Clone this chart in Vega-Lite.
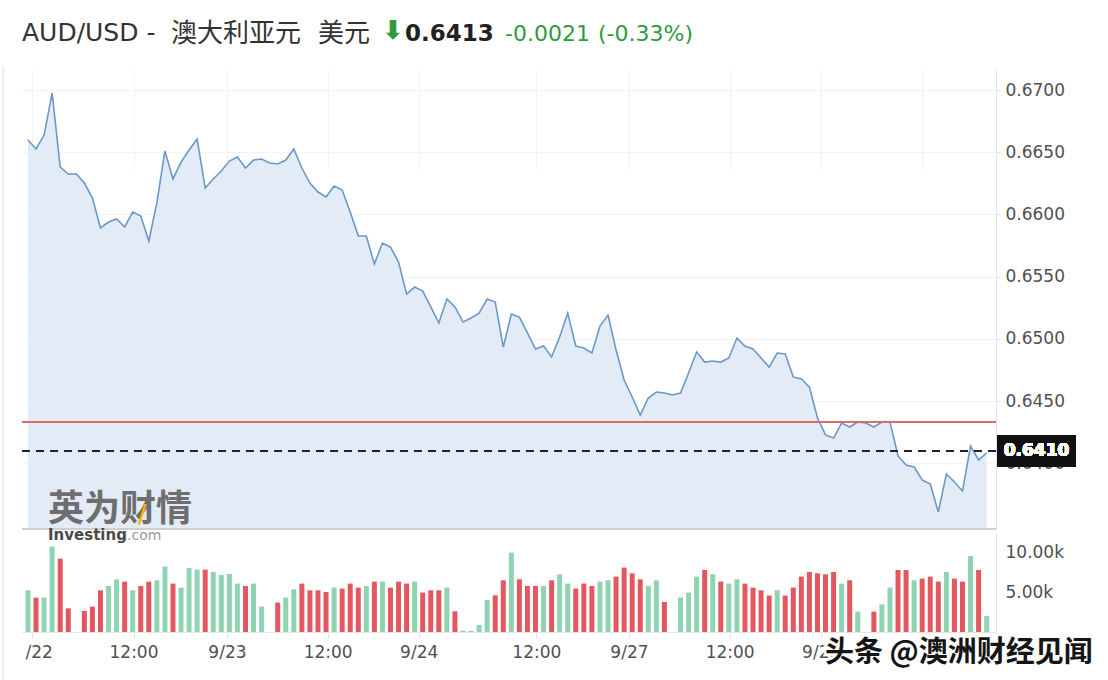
{
  "$schema": "https://vega.github.io/schema/vega-lite/v6.json",
  "width": 974,
  "height": 562,
  "autosize": {"type": "none"},
  "padding": {"left": 22, "top": 70, "right": 112, "bottom": 48},
  "background": "white",
  "config": {"view": {"stroke": null}, "font": "DejaVu Sans"},
  "datasets": {
    "price": [
      {"i":0,"p":0.66598},{"i":1,"p":0.66526},{"i":2,"p":0.66638},{"i":3,"p":0.66976},{"i":4,"p":0.66381},
      {"i":5,"p":0.66325},{"i":6,"p":0.66325},{"i":7,"p":0.66252},{"i":8,"p":0.66132},{"i":9,"p":0.65891},
      {"i":10,"p":0.65939},{"i":11,"p":0.65963},{"i":12,"p":0.65899},{"i":13,"p":0.66019},{"i":14,"p":0.65987},
      {"i":15,"p":0.65786},{"i":16,"p":0.66092},{"i":17,"p":0.6651},{"i":18,"p":0.66285},{"i":19,"p":0.66421},
      {"i":20,"p":0.66518},{"i":21,"p":0.66606},{"i":22,"p":0.66212},{"i":23,"p":0.66285},{"i":24,"p":0.66349},
      {"i":25,"p":0.66429},{"i":26,"p":0.66461},{"i":27,"p":0.66373},{"i":28,"p":0.66437},{"i":29,"p":0.66445},
      {"i":30,"p":0.66413},{"i":31,"p":0.66405},{"i":32,"p":0.66437},{"i":33,"p":0.66526},{"i":34,"p":0.66373},
      {"i":35,"p":0.66252},{"i":36,"p":0.6618},{"i":37,"p":0.6614},{"i":38,"p":0.66228},{"i":39,"p":0.66196},
      {"i":40,"p":0.66019},{"i":41,"p":0.65826},{"i":42,"p":0.65826},{"i":43,"p":0.65601},{"i":44,"p":0.6577},
      {"i":45,"p":0.65738},{"i":46,"p":0.65617},{"i":47,"p":0.6536},{"i":48,"p":0.65416},{"i":49,"p":0.65384},
      {"i":50,"p":0.65256},{"i":51,"p":0.65127},{"i":52,"p":0.6532},{"i":53,"p":0.65256},{"i":54,"p":0.65135},
      {"i":55,"p":0.65167},{"i":56,"p":0.65207},{"i":57,"p":0.6532},{"i":58,"p":0.65296},{"i":59,"p":0.64934},
      {"i":60,"p":0.65199},{"i":61,"p":0.65175},{"i":62,"p":0.65047},{"i":63,"p":0.64918},{"i":64,"p":0.64942},
      {"i":65,"p":0.64854},{"i":66,"p":0.65014},{"i":67,"p":0.65207},{"i":68,"p":0.64942},{"i":69,"p":0.64926},
      {"i":70,"p":0.64886},{"i":71,"p":0.65103},{"i":72,"p":0.65191},{"i":73,"p":0.6491},{"i":74,"p":0.64669},
      {"i":75,"p":0.64532},{"i":76,"p":0.64387},{"i":77,"p":0.64524},{"i":78,"p":0.64572},{"i":79,"p":0.64564},
      {"i":80,"p":0.64548},{"i":81,"p":0.64564},{"i":82,"p":0.64725},{"i":83,"p":0.64894},{"i":84,"p":0.64813},
      {"i":85,"p":0.64821},{"i":86,"p":0.64813},{"i":87,"p":0.64846},{"i":88,"p":0.65006},{"i":89,"p":0.64942},
      {"i":90,"p":0.64918},{"i":91,"p":0.64846},{"i":92,"p":0.64773},{"i":93,"p":0.64886},{"i":94,"p":0.64878},
      {"i":95,"p":0.64693},{"i":96,"p":0.64677},{"i":97,"p":0.64612},{"i":98,"p":0.64363},{"i":99,"p":0.64227},
      {"i":100,"p":0.64202},{"i":101,"p":0.64323},{"i":102,"p":0.64291},{"i":103,"p":0.64331},{"i":104,"p":0.64323},
      {"i":105,"p":0.64291},{"i":106,"p":0.64331},{"i":107,"p":0.64331},{"i":108,"p":0.64058},{"i":109,"p":0.63985},
      {"i":110,"p":0.63969},{"i":111,"p":0.63865},{"i":112,"p":0.63833},{"i":113,"p":0.63608},{"i":114,"p":0.63913},
      {"i":115,"p":0.63849},{"i":116,"p":0.63776},{"i":117,"p":0.64138},{"i":118,"p":0.64026},{"i":119,"p":0.64082}
    ],
    "vol": [
      {"i":0,"v":5212,"d":"up"},{"i":1,"v":4300,"d":"down"},{"i":2,"v":4300,"d":"up"},{"i":3,"v":10675,"d":"up"},
      {"i":4,"v":9175,"d":"down"},{"i":5,"v":2962,"d":"down"},{"i":6,"v":0,"d":"up"},{"i":7,"v":2625,"d":"down"},
      {"i":8,"v":3175,"d":"down"},{"i":9,"v":5212,"d":"down"},{"i":10,"v":5750,"d":"up"},{"i":11,"v":6587,"d":"up"},
      {"i":12,"v":6300,"d":"down"},{"i":13,"v":5212,"d":"up"},{"i":14,"v":5750,"d":"down"},{"i":15,"v":6300,"d":"down"},
      {"i":16,"v":6462,"d":"up"},{"i":17,"v":8175,"d":"up"},{"i":18,"v":6050,"d":"down"},{"i":19,"v":5550,"d":"up"},
      {"i":20,"v":8000,"d":"up"},{"i":21,"v":7800,"d":"up"},{"i":22,"v":7800,"d":"down"},{"i":23,"v":7500,"d":"up"},
      {"i":24,"v":7125,"d":"up"},{"i":25,"v":7250,"d":"up"},{"i":26,"v":6050,"d":"up"},{"i":27,"v":5750,"d":"down"},
      {"i":28,"v":6050,"d":"up"},{"i":29,"v":3175,"d":"up"},{"i":30,"v":0,"d":"up"},{"i":31,"v":3675,"d":"down"},
      {"i":32,"v":4300,"d":"up"},{"i":33,"v":5337,"d":"up"},{"i":34,"v":6050,"d":"down"},{"i":35,"v":5212,"d":"down"},
      {"i":36,"v":5212,"d":"down"},{"i":37,"v":5000,"d":"down"},{"i":38,"v":5550,"d":"up"},{"i":39,"v":5425,"d":"down"},
      {"i":40,"v":6050,"d":"down"},{"i":41,"v":5550,"d":"down"},{"i":42,"v":5750,"d":"up"},{"i":43,"v":6300,"d":"down"},
      {"i":44,"v":6300,"d":"up"},{"i":45,"v":5550,"d":"down"},{"i":46,"v":6300,"d":"down"},{"i":47,"v":6050,"d":"down"},
      {"i":48,"v":6300,"d":"up"},{"i":49,"v":4925,"d":"down"},{"i":50,"v":5212,"d":"down"},{"i":51,"v":5212,"d":"down"},
      {"i":52,"v":5550,"d":"up"},{"i":53,"v":2587,"d":"down"},{"i":54,"v":150,"d":"up"},{"i":55,"v":150,"d":"up"},
      {"i":56,"v":875,"d":"up"},{"i":57,"v":4000,"d":"up"},{"i":58,"v":4587,"d":"down"},{"i":59,"v":6462,"d":"down"},
      {"i":60,"v":9925,"d":"up"},{"i":61,"v":6587,"d":"down"},{"i":62,"v":5750,"d":"down"},{"i":63,"v":5750,"d":"down"},
      {"i":64,"v":5750,"d":"up"},{"i":65,"v":6462,"d":"down"},{"i":66,"v":7212,"d":"up"},{"i":67,"v":6050,"d":"up"},
      {"i":68,"v":5425,"d":"down"},{"i":69,"v":6050,"d":"down"},{"i":70,"v":5750,"d":"down"},{"i":71,"v":6300,"d":"up"},
      {"i":72,"v":6462,"d":"up"},{"i":73,"v":6925,"d":"down"},{"i":74,"v":8050,"d":"down"},{"i":75,"v":7337,"d":"down"},
      {"i":76,"v":6587,"d":"down"},{"i":77,"v":5750,"d":"up"},{"i":78,"v":6462,"d":"up"},{"i":79,"v":3750,"d":"down"},
      {"i":80,"v":0,"d":"up"},{"i":81,"v":4300,"d":"up"},{"i":82,"v":4925,"d":"up"},{"i":83,"v":6925,"d":"up"},
      {"i":84,"v":7750,"d":"down"},{"i":85,"v":7212,"d":"up"},{"i":86,"v":6300,"d":"down"},{"i":87,"v":6050,"d":"up"},
      {"i":88,"v":6587,"d":"up"},{"i":89,"v":6050,"d":"down"},{"i":90,"v":5550,"d":"down"},{"i":91,"v":5212,"d":"down"},
      {"i":92,"v":4550,"d":"down"},{"i":93,"v":5212,"d":"up"},{"i":94,"v":4550,"d":"down"},{"i":95,"v":5550,"d":"down"},
      {"i":96,"v":6925,"d":"down"},{"i":97,"v":7500,"d":"down"},{"i":98,"v":7337,"d":"down"},{"i":99,"v":7212,"d":"down"},
      {"i":100,"v":7500,"d":"down"},{"i":101,"v":6050,"d":"up"},{"i":102,"v":6462,"d":"down"},{"i":103,"v":2550,"d":"up"},
      {"i":104,"v":0,"d":"up"},{"i":105,"v":2550,"d":"down"},{"i":106,"v":3462,"d":"up"},{"i":107,"v":5550,"d":"up"},
      {"i":108,"v":7750,"d":"down"},{"i":109,"v":7750,"d":"down"},{"i":110,"v":6462,"d":"up"},{"i":111,"v":6675,"d":"down"},
      {"i":112,"v":6925,"d":"down"},{"i":113,"v":6300,"d":"down"},{"i":114,"v":7500,"d":"up"},{"i":115,"v":6675,"d":"down"},
      {"i":116,"v":6300,"d":"down"},{"i":117,"v":9500,"d":"up"},{"i":118,"v":7750,"d":"down"},{"i":119,"v":2000,"d":"up"}
    ]
  },
  "layer": [
    {
      "data": {"name": "price"},
      "layer": [
        {
          "mark": {"type": "area", "color": "#e3ecf6", "opacity": 1},
          "encoding": {
            "x": {"field": "i", "type": "quantitative", "scale": {"domain": [-0.12, 119.54], "nice": false, "zero": false}, "axis": null},
            "y": {"field": "p", "type": "quantitative",
              "scale": {"domain": [0.63471, 0.67161], "range": [459, 0], "nice": false, "zero": false},
              "axis": {"orient": "right", "values": [0.64, 0.645, 0.65, 0.655, 0.66, 0.665, 0.67], "format": ".4f", "title": null,
                "grid": true, "gridColor": "#f3f3f3", "domain": true, "domainColor": "#e2e2e2", "ticks": true, "tickColor": "#dddddd",
                "tickSize": 4, "labelPadding": 5, "labelFontSize": 17, "labelColor": "#505050", "labelFont": "DejaVu Sans"}},
            "y2": {"datum": 0.63471}
          }
        },
        {
          "mark": {"type": "line", "color": "#6a98c8", "strokeWidth": 1.6},
          "encoding": {
            "x": {"field": "i", "type": "quantitative", "axis": null},
            "y": {"field": "p", "type": "quantitative"}
          }
        },
        {
          "mark": {"type": "rule", "color": "#cfcfcf", "strokeWidth": 1},
          "encoding": {"y": {"datum": 0.63471}}
        },
        {
          "mark": {"type": "rule", "color": "#e06a6a", "strokeWidth": 1.3},
          "encoding": {"y": {"datum": 0.6433}}
        },
        {
          "mark": {"type": "rule", "color": "#222222", "strokeWidth": 1.4, "strokeDash": [8, 6]},
          "encoding": {"y": {"datum": 0.641}}
        },
        {
          "mark": {"type": "rect", "color": "#111111"},
          "encoding": {
            "x": {"value": 975}, "x2": {"value": 1054},
            "y": {"datum": 0.64225}, "y2": {"datum": 0.63972}
          }
        },
        {
          "mark": {"type": "text", "text": "0.6410", "color": "white", "fontWeight": "bold", "fontSize": 17, "font": "DejaVu Sans", "align": "center", "baseline": "middle"},
          "encoding": {"x": {"value": 1014.5}, "y": {"datum": 0.64098}}
        }
      ]
    },
    {
      "data": {"name": "vol"},
      "mark": {"type": "bar", "size": 5},
      "encoding": {
        "x": {"field": "i", "type": "quantitative",
          "axis": {"values": [0.5, 13.1, 24.7, 37.2, 48.5, 63.1, 74.6, 87.1, 98.4, 111],
            "labelExpr": "datum.value < 1 ? '/22' : datum.value < 14 ? '12:00' : datum.value < 25 ? '9/23' : datum.value < 38 ? '12:00' : datum.value < 49 ? '9/24' : datum.value < 64 ? '12:00' : datum.value < 75 ? '9/27' : datum.value < 88 ? '12:00' : datum.value < 99 ? '9/28' : '12:00'",
            "labelAlign": {"condition": {"test": "datum.value < 1", "value": "left"}, "value": "center"},
            "labelOffset": {"condition": {"test": "datum.value < 1", "value": -7}, "value": 0},
            "grid": true, "gridColor": "#f1f1f1", "domain": true, "domainColor": "#e6e6e6", "tickSize": 6, "tickColor": "#e3e3e3",
            "labelPadding": 6, "labelFontSize": 17, "labelColor": "#505050", "labelFont": "DejaVu Sans", "title": null,
            "labelFlush": false, "labelOverlap": false}},
        "y": {"field": "v", "type": "quantitative",
          "scale": {"domain": [0, 12500], "range": [562, 462], "nice": false},
          "axis": {"orient": "right", "values": [5000, 10000], "labelExpr": "format(datum.value / 1000, '.2f') + 'k'", "title": null,
            "grid": false, "domain": true, "domainColor": "#e2e2e2", "ticks": false, "labelPadding": 9, "labelFontSize": 17,
            "labelColor": "#505050", "labelFont": "DejaVu Sans"}},
        "color": {"field": "d", "type": "nominal", "scale": {"domain": ["up", "down"], "range": ["#8fd3b1", "#e3585f"]}, "legend": null}
      }
    },
    {
      "data": {"values": [{}]},
      "layer": [
        {"mark": {"type": "rule", "color": "#dddddd", "strokeWidth": 1}, "encoding": {"x": {"value": -19}, "y": {"value": -4}, "y2": {"value": 610}}},
        {"mark": {"type": "text", "text": "AUD/USD -", "font": "DejaVu Sans", "fontSize": 25, "color": "#333333", "align": "left", "baseline": "alphabetic"}, "encoding": {"x": {"value": 0}, "y": {"value": -29}}},
        {"mark": {"type": "text", "text": "澳大利亚元", "font": "Noto Sans CJK SC", "fontSize": 26, "color": "#333333", "align": "left", "baseline": "alphabetic"}, "encoding": {"x": {"value": 149}, "y": {"value": -28}}},
        {"mark": {"type": "text", "text": "美元", "font": "Noto Sans CJK SC", "fontSize": 26, "color": "#333333", "align": "left", "baseline": "alphabetic"}, "encoding": {"x": {"value": 296}, "y": {"value": -28}}},
        {"mark": {"type": "text", "text": "⬇", "font": "DejaVu Sans", "fontSize": 26, "fontWeight": "bold", "color": "#2f9a3f", "align": "left", "baseline": "alphabetic"}, "encoding": {"x": {"value": 360}, "y": {"value": -31}}},
        {"mark": {"type": "text", "text": "0.6413", "font": "DejaVu Sans", "fontWeight": "bold", "fontSize": 23, "color": "#222222", "align": "left", "baseline": "alphabetic"}, "encoding": {"x": {"value": 383}, "y": {"value": -29}}},
        {"mark": {"type": "text", "text": "-0.0021", "font": "DejaVu Sans", "fontSize": 22, "color": "#2f9a3f", "align": "left", "baseline": "alphabetic"}, "encoding": {"x": {"value": 483}, "y": {"value": -29}}},
        {"mark": {"type": "text", "text": "(-0.33%)", "font": "DejaVu Sans", "fontSize": 22, "color": "#2f9a3f", "align": "left", "baseline": "alphabetic"}, "encoding": {"x": {"value": 576}, "y": {"value": -29}}},
        {"mark": {"type": "text", "text": "英为财情", "font": "Noto Sans CJK SC", "fontWeight": "bold", "fontSize": 36, "color": "#6e6e6e", "align": "left", "baseline": "alphabetic"}, "encoding": {"x": {"value": 26}, "y": {"value": 451}}},
        {"mark": {"type": "text", "text": "/", "font": "DejaVu Sans", "fontWeight": "bold", "fontSize": 24, "color": "#f2b600", "align": "center", "baseline": "alphabetic"}, "encoding": {"x": {"value": 120}, "y": {"value": 452}}},
        {"mark": {"type": "text", "text": "Investing", "font": "DejaVu Sans", "fontWeight": "bold", "fontSize": 15, "color": "#4a4a4a", "align": "left", "baseline": "alphabetic"}, "encoding": {"x": {"value": 26}, "y": {"value": 470}}},
        {"mark": {"type": "text", "text": ".com", "font": "DejaVu Sans", "fontSize": 14, "color": "#9a9a9a", "align": "left", "baseline": "alphabetic"}, "encoding": {"x": {"value": 105}, "y": {"value": 470}}},
        {"mark": {"type": "text", "text": "头条 @澳洲财经见闻", "font": "Noto Sans CJK SC", "fontSize": 29, "fontWeight": "bold", "color": "white", "stroke": "white", "strokeWidth": 5, "align": "left", "baseline": "alphabetic"}, "encoding": {"x": {"value": 803}, "y": {"value": 592}}},
        {"mark": {"type": "text", "text": "头条 @澳洲财经见闻", "font": "Noto Sans CJK SC", "fontSize": 29, "fontWeight": "bold", "color": "#151515", "align": "left", "baseline": "alphabetic"}, "encoding": {"x": {"value": 803}, "y": {"value": 592}}}
      ]
    }
  ],
  "resolve": {"scale": {"y": "independent"}, "axis": {"y": "independent", "x": "independent"}}
}
